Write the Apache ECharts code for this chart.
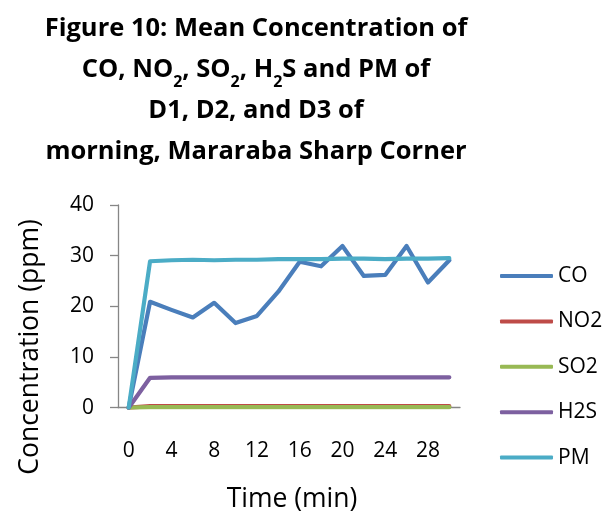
<!DOCTYPE html>
<html>
<head>
<meta charset="utf-8">
<script src="https://cdn.jsdelivr.net/npm/echarts@6/dist/echarts.min.js"></script>
<style>
  html, body { margin: 0; padding: 0; background: #fff; }
  #chart { width: 615px; height: 521px; }
</style>
</head>
<body>
<div id="chart"></div>
<script>
// Sampling times (min)
const times = ['0', '2', '4', '6', '8', '10', '12', '14', '16', '18', '20', '22', '24', '26', '28', '30'];

// Mean concentrations (ppm)
const co  = [0, 20.9, 19.3, 17.8, 20.7, 16.7, 18.1, 22.9, 28.8, 27.9, 31.9, 26.0, 26.2, 31.9, 24.7, 29.1];
const no2 = [0, 0.3, 0.3, 0.3, 0.3, 0.3, 0.3, 0.3, 0.3, 0.3, 0.3, 0.3, 0.3, 0.3, 0.3, 0.3];
const so2 = [0, 0.1, 0.1, 0.1, 0.1, 0.1, 0.1, 0.1, 0.1, 0.1, 0.1, 0.1, 0.1, 0.1, 0.1, 0.1];
const h2s = [0, 5.9, 6.0, 6.0, 6.0, 6.0, 6.0, 6.0, 6.0, 6.0, 6.0, 6.0, 6.0, 6.0, 6.0, 6.0];
const pm  = [0, 28.9, 29.1, 29.2, 29.1, 29.2, 29.2, 29.3, 29.3, 29.3, 29.4, 29.4, 29.3, 29.4, 29.4, 29.5];

const seriesNames = ['CO', 'NO2', 'SO2', 'H2S', 'PM'];
const seriesData = [co, no2, so2, h2s, pm];
const colors = ['#4A7EBB', '#BE4B48', '#98B954', '#7D60A0', '#4BACC6'];

const titleLines = [
  'Figure 10: Mean Concentration of',
  'CO, NO{sub|2}, SO{sub|2}, H{sub|2}S and PM of',
  'D1, D2, and D3 of',
  'morning, Mararaba Sharp Corner'
];
const xTitle = 'Time (min)';
const yTitle = 'Concentration (ppm)';

const FONT = '"Open Sans", "Noto Sans", sans-serif';
const AXIS_GREY = '#868686';

const chart = echarts.init(document.getElementById('chart'), null, { renderer: 'canvas' });

chart.setOption({
  animation: false,
  backgroundColor: '#ffffff',
  color: colors,
  textStyle: { fontFamily: FONT },
  graphic: [
    {
      // chart heading, four centred lines with subscripts
      type: 'text',
      x: 256,
      y: 8,
      style: {
        text: titleLines.join('\n'),
        align: 'center',
        verticalAlign: 'top',
        fontFamily: FONT,
        fontWeight: 'bold',
        fontSize: 25.5,
        lineHeight: 41,
        fill: '#000',
        rich: {
          sub: {
            fontFamily: FONT,
            fontWeight: 'bold',
            fontSize: 16,
            lineHeight: 22,
            verticalAlign: 'bottom',
            fill: '#000'
          }
        }
      }
    },
    {
      // horizontal axis title
      type: 'text',
      x: 292,
      y: 499,
      style: {
        text: xTitle,
        align: 'center',
        verticalAlign: 'middle',
        fontFamily: FONT,
        fontSize: 26.5,
        fill: '#000'
      }
    },
    {
      // vertical axis title
      type: 'text',
      x: 30,
      y: 347,
      rotation: Math.PI / 2,
      style: {
        text: yTitle,
        align: 'center',
        verticalAlign: 'middle',
        fontFamily: FONT,
        fontSize: 26.5,
        fill: '#000'
      }
    }
  ],
  grid: {
    left: 118,
    top: 205,
    width: 342,
    height: 202.7,
    containLabel: false
  },
  legend: {
    orient: 'vertical',
    left: 500,
    top: 265.5,
    padding: 0,
    itemGap: 24.4,
    itemWidth: 53,
    itemHeight: 4,
    icon: 'roundRect',
    textStyle: { fontFamily: FONT, fontSize: 21, color: '#000', lineHeight: 21 },
    data: seriesNames
  },
  xAxis: {
    type: 'category',
    data: times,
    boundaryGap: true,
    axisLine: { show: true, lineStyle: { color: AXIS_GREY, width: 1.3 } },
    axisTick: { show: false },
    axisLabel: {
      interval: 1,
      margin: 33,
      fontFamily: FONT,
      fontSize: 21,
      color: '#000'
    },
    splitLine: { show: false }
  },
  yAxis: {
    type: 'value',
    min: 0,
    max: 40,
    interval: 10,
    axisLine: { show: true, lineStyle: { color: AXIS_GREY, width: 1.3 } },
    axisTick: { show: true, inside: false, length: 8, lineStyle: { color: AXIS_GREY, width: 1.3 } },
    axisLabel: {
      margin: 24,
      fontFamily: FONT,
      fontSize: 21,
      color: '#000'
    },
    splitLine: { show: false }
  },
  series: seriesNames.map((name, i) => ({
    name: name,
    type: 'line',
    data: seriesData[i],
    showSymbol: false,
    symbol: 'none',
    smooth: false,
    lineStyle: { width: 4.2, color: colors[i], cap: 'round', join: 'round' },
    itemStyle: { color: colors[i] },
    emphasis: { disabled: true }
  }))
});
</script>
</body>
</html>
